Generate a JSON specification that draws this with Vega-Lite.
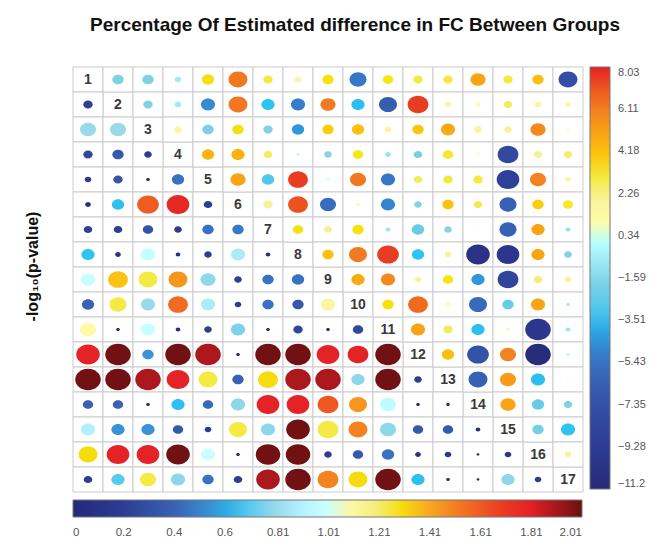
{
  "$schema": "https://vega.github.io/schema/vega-lite/v6.json",
  "width": 510,
  "height": 425,
  "autosize": {"type": "none"},
  "padding": {"left": 73, "top": 67, "right": 78, "bottom": 58},
  "background": "white",
  "config": {"font": "Liberation Sans", "view": {"stroke": null}},
  "title": {"text": "Percentage Of Estimated difference in FC Between Groups", "fontSize": 19, "fontWeight": "bold", "color": "#111", "anchor": "middle", "dx": 27, "offset": 32},
  "datasets": {
    "cells": [
      {"r":1,"c":1,"g":"D","lab":"1"},{"r":2,"c":2,"g":"D","lab":"2"},{"r":3,"c":3,"g":"D","lab":"3"},{"r":4,"c":4,"g":"D","lab":"4"},{"r":5,"c":5,"g":"D","lab":"5"},{"r":6,"c":6,"g":"D","lab":"6"},{"r":7,"c":7,"g":"D","lab":"7"},{"r":8,"c":8,"g":"D","lab":"8"},{"r":9,"c":9,"g":"D","lab":"9"},{"r":10,"c":10,"g":"D","lab":"10"},{"r":11,"c":11,"g":"D","lab":"11"},{"r":12,"c":12,"g":"D","lab":"12"},{"r":13,"c":13,"g":"D","lab":"13"},{"r":14,"c":14,"g":"D","lab":"14"},{"r":15,"c":15,"g":"D","lab":"15"},{"r":16,"c":16,"g":"D","lab":"16"},{"r":17,"c":17,"g":"D","lab":"17"},

      {"r":1,"c":2,"g":"U","pct":-1.8,"d":12},{"r":1,"c":3,"g":"U","pct":-1.8,"d":12},{"r":1,"c":4,"g":"U","pct":-0.8,"d":7},{"r":1,"c":5,"g":"U","pct":3.3,"d":13},{"r":1,"c":6,"g":"U","pct":6.3,"d":20},{"r":1,"c":7,"g":"U","pct":3.0,"d":10},{"r":1,"c":8,"g":"U","pct":1.8,"d":7},{"r":1,"c":9,"g":"U","pct":3.3,"d":12},{"r":1,"c":10,"g":"U","pct":-5.2,"d":18},{"r":1,"c":11,"g":"U","pct":3.2,"d":11},{"r":1,"c":12,"g":"U","pct":3.0,"d":10},{"r":1,"c":13,"g":"U","pct":3.0,"d":10},{"r":1,"c":14,"g":"U","pct":5.0,"d":16},{"r":1,"c":15,"g":"U","pct":3.0,"d":10},{"r":1,"c":16,"g":"U","pct":4.2,"d":12},{"r":1,"c":17,"g":"U","pct":-7.5,"d":20},
      {"r":2,"c":3,"g":"U","pct":-1.8,"d":10},{"r":2,"c":4,"g":"U","pct":-0.8,"d":7},{"r":2,"c":5,"g":"U","pct":-4.6,"d":15},{"r":2,"c":6,"g":"U","pct":6.3,"d":20},{"r":2,"c":7,"g":"U","pct":-3.5,"d":14},{"r":2,"c":8,"g":"U","pct":-5.0,"d":15},{"r":2,"c":9,"g":"U","pct":6.2,"d":16},{"r":2,"c":10,"g":"U","pct":-3.6,"d":14},{"r":2,"c":11,"g":"U","pct":-6.6,"d":19},{"r":2,"c":12,"g":"U","pct":7.6,"d":22},{"r":2,"c":13,"g":"U","pct":1.8,"d":7},{"r":2,"c":14,"g":"U","pct":1.3,"d":5},{"r":2,"c":15,"g":"U","pct":2.8,"d":9},{"r":2,"c":16,"g":"U","pct":1.8,"d":7},{"r":2,"c":17,"g":"U","pct":1.8,"d":6},
      {"r":3,"c":4,"g":"U","pct":1.8,"d":8},{"r":3,"c":5,"g":"U","pct":-1.9,"d":12},{"r":3,"c":6,"g":"U","pct":3.3,"d":12},{"r":3,"c":7,"g":"U","pct":-1.8,"d":10},{"r":3,"c":8,"g":"U","pct":-4.3,"d":13},{"r":3,"c":9,"g":"U","pct":3.8,"d":12},{"r":3,"c":10,"g":"U","pct":4.2,"d":13},{"r":3,"c":11,"g":"U","pct":1.8,"d":7},{"r":3,"c":12,"g":"U","pct":4.0,"d":12},{"r":3,"c":13,"g":"U","pct":4.8,"d":15},{"r":3,"c":14,"g":"U","pct":2.0,"d":8},{"r":3,"c":15,"g":"U","pct":2.2,"d":8},{"r":3,"c":16,"g":"U","pct":5.8,"d":16},{"r":3,"c":17,"g":"U","pct":0.6,"d":3},
      {"r":4,"c":5,"g":"U","pct":4.5,"d":13},{"r":4,"c":6,"g":"U","pct":4.6,"d":14},{"r":4,"c":7,"g":"U","pct":2.8,"d":9},{"r":4,"c":8,"g":"U","pct":-0.3,"d":3},{"r":4,"c":9,"g":"U","pct":-1.6,"d":8},{"r":4,"c":10,"g":"U","pct":3.2,"d":11},{"r":4,"c":11,"g":"U","pct":-1.0,"d":6},{"r":4,"c":12,"g":"U","pct":-2.0,"d":9},{"r":4,"c":13,"g":"U","pct":3.1,"d":11},{"r":4,"c":14,"g":"U","pct":0.8,"d":3},{"r":4,"c":15,"g":"U","pct":-8.0,"d":22},{"r":4,"c":16,"g":"U","pct":2.3,"d":9},{"r":4,"c":17,"g":"U","pct":2.7,"d":9},
      {"r":5,"c":6,"g":"U","pct":5.0,"d":16},{"r":5,"c":7,"g":"U","pct":-3.0,"d":13},{"r":5,"c":8,"g":"U","pct":7.6,"d":21},{"r":5,"c":9,"g":"U","pct":-0.1,"d":3},{"r":5,"c":10,"g":"U","pct":6.3,"d":17},{"r":5,"c":11,"g":"U","pct":-5.2,"d":15},{"r":5,"c":12,"g":"U","pct":2.8,"d":9},{"r":5,"c":13,"g":"U","pct":3.0,"d":10},{"r":5,"c":14,"g":"U","pct":3.0,"d":10},{"r":5,"c":15,"g":"U","pct":-8.8,"d":24},{"r":5,"c":16,"g":"U","pct":6.0,"d":17},{"r":5,"c":17,"g":"U","pct":1.6,"d":6},
      {"r":6,"c":7,"g":"U","pct":2.3,"d":10},{"r":6,"c":8,"g":"U","pct":7.2,"d":21},{"r":6,"c":9,"g":"U","pct":-5.6,"d":17},{"r":6,"c":10,"g":"U","pct":1.3,"d":4},{"r":6,"c":11,"g":"U","pct":-4.8,"d":15},{"r":6,"c":12,"g":"U","pct":-1.6,"d":8},{"r":6,"c":13,"g":"U","pct":4.1,"d":12},{"r":6,"c":14,"g":"U","pct":2.9,"d":9},{"r":6,"c":15,"g":"U","pct":-6.3,"d":18},{"r":6,"c":16,"g":"U","pct":3.8,"d":12},{"r":6,"c":17,"g":"U","pct":3.1,"d":11},
      {"r":7,"c":8,"g":"U","pct":3.3,"d":11},{"r":7,"c":9,"g":"U","pct":2.4,"d":8},{"r":7,"c":10,"g":"U","pct":3.3,"d":12},{"r":7,"c":11,"g":"U","pct":-1.0,"d":5},{"r":7,"c":12,"g":"U","pct":-2.4,"d":13},{"r":7,"c":13,"g":"U","pct":-1.6,"d":8},{"r":7,"c":14,"g":"U","pct":0.8,"d":2},{"r":7,"c":15,"g":"U","pct":-6.3,"d":18},{"r":7,"c":16,"g":"U","pct":5.0,"d":14},{"r":7,"c":17,"g":"U","pct":-1.2,"d":5},
      {"r":8,"c":9,"g":"U","pct":4.2,"d":12},{"r":8,"c":10,"g":"U","pct":6.2,"d":19},{"r":8,"c":11,"g":"U","pct":7.6,"d":23},{"r":8,"c":12,"g":"U","pct":-3.5,"d":13},{"r":8,"c":13,"g":"U","pct":2.0,"d":7},{"r":8,"c":14,"g":"U","pct":-10.3,"d":25},{"r":8,"c":15,"g":"U","pct":-9.8,"d":24},{"r":8,"c":16,"g":"U","pct":5.0,"d":14},{"r":8,"c":17,"g":"U","pct":-1.8,"d":8},
      {"r":9,"c":10,"g":"U","pct":4.8,"d":14},{"r":9,"c":11,"g":"U","pct":5.8,"d":15},{"r":9,"c":12,"g":"U","pct":2.0,"d":7},{"r":9,"c":13,"g":"U","pct":3.2,"d":11},{"r":9,"c":14,"g":"U","pct":-4.3,"d":14},{"r":9,"c":15,"g":"U","pct":-8.3,"d":22},{"r":9,"c":16,"g":"U","pct":2.6,"d":9},{"r":9,"c":17,"g":"U","pct":2.0,"d":7},
      {"r":10,"c":11,"g":"U","pct":3.3,"d":12},{"r":10,"c":12,"g":"U","pct":6.6,"d":21},{"r":10,"c":13,"g":"U","pct":1.4,"d":5},{"r":10,"c":14,"g":"U","pct":-5.8,"d":19},{"r":10,"c":15,"g":"U","pct":-2.4,"d":12},{"r":10,"c":16,"g":"U","pct":5.0,"d":15},{"r":10,"c":17,"g":"U","pct":-0.8,"d":4},
      {"r":11,"c":12,"g":"U","pct":5.0,"d":15},{"r":11,"c":13,"g":"U","pct":2.8,"d":10},{"r":11,"c":14,"g":"U","pct":-3.6,"d":14},{"r":11,"c":15,"g":"U","pct":1.3,"d":4},{"r":11,"c":16,"g":"U","pct":-9.8,"d":27},{"r":11,"c":17,"g":"U","pct":-0.9,"d":5},
      {"r":12,"c":13,"g":"U","pct":4.2,"d":13},{"r":12,"c":14,"g":"U","pct":-7.2,"d":23},{"r":12,"c":15,"g":"U","pct":6.0,"d":17},{"r":12,"c":16,"g":"U","pct":-11.0,"d":27},{"r":12,"c":17,"g":"U","pct":-0.5,"d":3},
      {"r":13,"c":14,"g":"U","pct":-6.3,"d":20},{"r":13,"c":15,"g":"U","pct":5.3,"d":17},{"r":13,"c":16,"g":"U","pct":-3.6,"d":15},{"r":13,"c":17,"g":"U","pct":0.3,"d":2},
      {"r":14,"c":15,"g":"U","pct":5.0,"d":16},{"r":14,"c":16,"g":"U","pct":-2.4,"d":13},{"r":14,"c":17,"g":"U","pct":-1.8,"d":9},
      {"r":15,"c":16,"g":"U","pct":-2.0,"d":12},{"r":15,"c":17,"g":"U","pct":-3.5,"d":15},
      {"r":16,"c":17,"g":"U","pct":2.0,"d":7},

      {"r":2,"c":1,"g":"L","lp":0.2,"d":10},
      {"r":3,"c":1,"g":"L","lp":0.8,"d":17},{"r":3,"c":2,"g":"L","lp":0.8,"d":17},
      {"r":4,"c":1,"g":"L","lp":0.25,"d":10},{"r":4,"c":2,"g":"L","lp":0.35,"d":12},{"r":4,"c":3,"g":"L","lp":0.18,"d":8},
      {"r":5,"c":1,"g":"L","lp":0.15,"d":7},{"r":5,"c":2,"g":"L","lp":0.33,"d":10},{"r":5,"c":3,"g":"L","lp":0.05,"d":4},{"r":5,"c":4,"g":"L","lp":0.45,"d":13},
      {"r":6,"c":1,"g":"L","lp":0.1,"d":6},{"r":6,"c":2,"g":"L","lp":0.65,"d":13},{"r":6,"c":3,"g":"L","lp":1.6,"d":23},{"r":6,"c":4,"g":"L","lp":1.78,"d":24},{"r":6,"c":5,"g":"L","lp":0.2,"d":9},
      {"r":7,"c":1,"g":"L","lp":0.2,"d":9},{"r":7,"c":2,"g":"L","lp":0.2,"d":9},{"r":7,"c":3,"g":"L","lp":0.32,"d":11},{"r":7,"c":4,"g":"L","lp":0.17,"d":8},{"r":7,"c":5,"g":"L","lp":0.45,"d":12},{"r":7,"c":6,"g":"L","lp":0.47,"d":12},
      {"r":8,"c":1,"g":"L","lp":0.66,"d":14},{"r":8,"c":2,"g":"L","lp":0.1,"d":6},{"r":8,"c":3,"g":"L","lp":0.97,"d":15},{"r":8,"c":4,"g":"L","lp":0.08,"d":5},{"r":8,"c":5,"g":"L","lp":0.2,"d":8},{"r":8,"c":6,"g":"L","lp":0.88,"d":15},{"r":8,"c":7,"g":"L","lp":0.08,"d":5},
      {"r":9,"c":1,"g":"L","lp":0.98,"d":15},{"r":9,"c":2,"g":"L","lp":1.35,"d":21},{"r":9,"c":3,"g":"L","lp":1.25,"d":20},{"r":9,"c":4,"g":"L","lp":1.45,"d":20},{"r":9,"c":5,"g":"L","lp":0.78,"d":16},{"r":9,"c":6,"g":"L","lp":0.2,"d":8},{"r":9,"c":7,"g":"L","lp":0.45,"d":12},{"r":9,"c":8,"g":"L","lp":0.45,"d":13},
      {"r":10,"c":1,"g":"L","lp":0.4,"d":13},{"r":10,"c":2,"g":"L","lp":1.25,"d":18},{"r":10,"c":3,"g":"L","lp":0.8,"d":15},{"r":10,"c":4,"g":"L","lp":1.55,"d":21},{"r":10,"c":5,"g":"L","lp":0.88,"d":15},{"r":10,"c":6,"g":"L","lp":0.18,"d":7},{"r":10,"c":7,"g":"L","lp":0.45,"d":12},{"r":10,"c":8,"g":"L","lp":0.35,"d":12},{"r":10,"c":9,"g":"L","lp":1.12,"d":15},
      {"r":11,"c":1,"g":"L","lp":1.08,"d":17},{"r":11,"c":2,"g":"L","lp":0.05,"d":4},{"r":11,"c":3,"g":"L","lp":0.98,"d":15},{"r":11,"c":4,"g":"L","lp":0.06,"d":5},{"r":11,"c":5,"g":"L","lp":0.2,"d":8},{"r":11,"c":6,"g":"L","lp":0.75,"d":15},{"r":11,"c":7,"g":"L","lp":0.05,"d":4},{"r":11,"c":8,"g":"L","lp":0.25,"d":10},{"r":11,"c":9,"g":"L","lp":0.05,"d":4},{"r":11,"c":10,"g":"L","lp":0.25,"d":11},
      {"r":12,"c":1,"g":"L","lp":1.8,"d":25},{"r":12,"c":2,"g":"L","lp":2.0,"d":27},{"r":12,"c":3,"g":"L","lp":0.55,"d":12},{"r":12,"c":4,"g":"L","lp":2.0,"d":27},{"r":12,"c":5,"g":"L","lp":1.9,"d":27},{"r":12,"c":6,"g":"L","lp":0.05,"d":4},{"r":12,"c":7,"g":"L","lp":2.0,"d":27},{"r":12,"c":8,"g":"L","lp":2.0,"d":27},{"r":12,"c":9,"g":"L","lp":1.8,"d":24},{"r":12,"c":10,"g":"L","lp":1.8,"d":22},{"r":12,"c":11,"g":"L","lp":2.0,"d":27},
      {"r":13,"c":1,"g":"L","lp":2.0,"d":27},{"r":13,"c":2,"g":"L","lp":2.0,"d":27},{"r":13,"c":3,"g":"L","lp":1.9,"d":27},{"r":13,"c":4,"g":"L","lp":1.8,"d":24},{"r":13,"c":5,"g":"L","lp":1.25,"d":20},{"r":13,"c":6,"g":"L","lp":0.4,"d":12},{"r":13,"c":7,"g":"L","lp":1.3,"d":21},{"r":13,"c":8,"g":"L","lp":1.9,"d":27},{"r":13,"c":9,"g":"L","lp":1.9,"d":27},{"r":13,"c":10,"g":"L","lp":0.78,"d":14},{"r":13,"c":11,"g":"L","lp":2.0,"d":27},{"r":13,"c":12,"g":"L","lp":0.2,"d":8},
      {"r":14,"c":1,"g":"L","lp":0.4,"d":11},{"r":14,"c":2,"g":"L","lp":0.4,"d":11},{"r":14,"c":3,"g":"L","lp":0.05,"d":4},{"r":14,"c":4,"g":"L","lp":0.65,"d":14},{"r":14,"c":5,"g":"L","lp":0.42,"d":11},{"r":14,"c":6,"g":"L","lp":0.78,"d":15},{"r":14,"c":7,"g":"L","lp":1.8,"d":24},{"r":14,"c":8,"g":"L","lp":1.8,"d":24},{"r":14,"c":9,"g":"L","lp":1.62,"d":22},{"r":14,"c":10,"g":"L","lp":1.45,"d":19},{"r":14,"c":11,"g":"L","lp":0.95,"d":17},{"r":14,"c":12,"g":"L","lp":0.05,"d":4},{"r":14,"c":13,"g":"L","lp":0.05,"d":4},
      {"r":15,"c":1,"g":"L","lp":0.9,"d":15},{"r":15,"c":2,"g":"L","lp":0.55,"d":14},{"r":15,"c":3,"g":"L","lp":0.55,"d":14},{"r":15,"c":4,"g":"L","lp":0.35,"d":11},{"r":15,"c":5,"g":"L","lp":0.15,"d":7},{"r":15,"c":6,"g":"L","lp":1.25,"d":19},{"r":15,"c":7,"g":"L","lp":0.78,"d":15},{"r":15,"c":8,"g":"L","lp":2.0,"d":25},{"r":15,"c":9,"g":"L","lp":1.25,"d":22},{"r":15,"c":10,"g":"L","lp":1.5,"d":20},{"r":15,"c":11,"g":"L","lp":0.78,"d":17},{"r":15,"c":12,"g":"L","lp":0.35,"d":11},{"r":15,"c":13,"g":"L","lp":0.35,"d":11},{"r":15,"c":14,"g":"L","lp":0.07,"d":5},
      {"r":16,"c":1,"g":"L","lp":1.3,"d":20},{"r":16,"c":2,"g":"L","lp":1.8,"d":24},{"r":16,"c":3,"g":"L","lp":1.8,"d":24},{"r":16,"c":4,"g":"L","lp":2.0,"d":25},{"r":16,"c":5,"g":"L","lp":1.0,"d":15},{"r":16,"c":6,"g":"L","lp":0.05,"d":4},{"r":16,"c":7,"g":"L","lp":2.0,"d":26},{"r":16,"c":8,"g":"L","lp":2.0,"d":26},{"r":16,"c":9,"g":"L","lp":0.2,"d":8},{"r":16,"c":10,"g":"L","lp":0.35,"d":11},{"r":16,"c":11,"g":"L","lp":0.45,"d":13},{"r":16,"c":12,"g":"L","lp":0.1,"d":6},{"r":16,"c":13,"g":"L","lp":0.15,"d":7},{"r":16,"c":14,"g":"L","lp":0.05,"d":3},{"r":16,"c":15,"g":"L","lp":0.15,"d":7},
      {"r":17,"c":1,"g":"L","lp":0.2,"d":9},{"r":17,"c":2,"g":"L","lp":0.7,"d":14},{"r":17,"c":3,"g":"L","lp":1.25,"d":17},{"r":17,"c":4,"g":"L","lp":0.78,"d":15},{"r":17,"c":5,"g":"L","lp":0.45,"d":12},{"r":17,"c":6,"g":"L","lp":0.2,"d":9},{"r":17,"c":7,"g":"L","lp":1.9,"d":25},{"r":17,"c":8,"g":"L","lp":2.0,"d":27},{"r":17,"c":9,"g":"L","lp":1.5,"d":22},{"r":17,"c":10,"g":"L","lp":1.3,"d":20},{"r":17,"c":11,"g":"L","lp":2.0,"d":27},{"r":17,"c":12,"g":"L","lp":0.65,"d":14},{"r":17,"c":13,"g":"L","lp":0.05,"d":4},{"r":17,"c":14,"g":"L","lp":0.05,"d":3},{"r":17,"c":15,"g":"L","lp":0.78,"d":14},{"r":17,"c":16,"g":"L","lp":0.2,"d":7}
    ]
  },
  "data": {"name": "cells"},
  "encoding": {
    "x": {"field": "c", "type": "ordinal", "scale": {"domain": [1,2,3,4,5,6,7,8,9,10,11,12,13,14,15,16,17], "paddingInner": 0, "paddingOuter": 0}, "axis": null},
    "y": {"field": "r", "type": "ordinal", "scale": {"domain": [1,2,3,4,5,6,7,8,9,10,11,12,13,14,15,16,17], "paddingInner": 0, "paddingOuter": 0},
      "axis": {"labels": false, "ticks": false, "domain": false, "grid": false, "title": "-log₁₀(p-value)", "titleFontSize": 16, "titleFontWeight": "bold", "titleColor": "#111", "titlePadding": 33, "titleY": 199}}
  },
  "layer": [
    {"mark": {"type": "rect", "fill": "white", "stroke": "#cbcbcb", "strokeWidth": 1}},
    {
      "transform": [{"filter": "datum.g === 'U'"}],
      "mark": {"type": "point", "filled": true, "opacity": 1, "shape": "M-1,0A1,0.84,0,1,1,1,0A1,0.84,0,1,1,-1,0Z"},
      "encoding": {
        "color": {"field": "pct", "type": "quantitative",
          "scale": {"domain": [-11.2, -9.28, -7.35, -5.43, -4.3, -3.51, -1.59, 0.34, 2.26, 3.2, 4.18, 6.11, 8.03],
                    "range": ["#262a78", "#2d3b93", "#3351a6", "#3a6fc0", "#3296dc", "#2ec3f2", "#86d2e2", "#ffffff", "#f6f19a", "#f5e60e", "#fcc010", "#f27e22", "#e51d24"]},
          "legend": {"orient": "right", "direction": "vertical", "title": null, "offset": 7, "gradientLength": 422, "gradientThickness": 20,
                     "values": [8.03, 6.11, 4.18, 2.26, 0.34, -1.59, -3.51, -5.43, -7.35, -9.28, -11.2], "format": ".3~r",
                     "labelFontSize": 11, "labelColor": "#555", "labelOffset": 8, "labelBaseline": "middle", "gradientStrokeColor": "#777", "gradientStrokeWidth": 1}},
        "size": {"field": "d", "type": "quantitative", "scale": {"type": "pow", "exponent": 2, "domain": [0, 27], "range": [0, 650]}, "legend": null}
      }
    },
    {
      "transform": [{"filter": "datum.g === 'L'"}],
      "mark": {"type": "point", "filled": true, "opacity": 1, "shape": "M-1,0A1,0.84,0,1,1,1,0A1,0.84,0,1,1,-1,0Z"},
      "encoding": {
        "color": {"field": "lp", "type": "quantitative",
          "scale": {"domain": [0, 0.2, 0.4, 0.55, 0.66, 0.81, 1.01, 1.15, 1.28, 1.41, 1.55, 1.7, 1.81, 2.01],
                    "range": ["#24287a", "#2d3e94", "#3a62b4", "#3a93d6", "#2ec4f2", "#9edbea", "#ffffff", "#f6f1a0", "#f5e60e", "#f7a623", "#f16c22", "#ea3a24", "#e41f26", "#6b1012"]},
          "legend": {"orient": "bottom", "direction": "horizontal", "title": null, "offset": 8, "gradientLength": 509, "gradientThickness": 17,
                     "values": [0, 0.2, 0.4, 0.6, 0.81, 1.01, 1.21, 1.41, 1.61, 1.81, 2.01], "format": ".3~r",
                     "labelFontSize": 11.5, "labelColor": "#555", "labelOffset": 10, "labelAlign": "center", "gradientStrokeColor": "#777", "gradientStrokeWidth": 1}},
        "size": {"field": "d", "type": "quantitative", "scale": {"type": "pow", "exponent": 2, "domain": [0, 27], "range": [0, 650]}, "legend": null}
      }
    },
    {
      "transform": [{"filter": "datum.g === 'D'"}],
      "mark": {"type": "text", "fontSize": 14, "fontWeight": "bold", "color": "#3a3a3a"},
      "encoding": {"text": {"field": "lab"}}
    }
  ],
  "resolve": {"scale": {"color": "independent", "size": "independent"}, "legend": {"color": "independent"}}
}
